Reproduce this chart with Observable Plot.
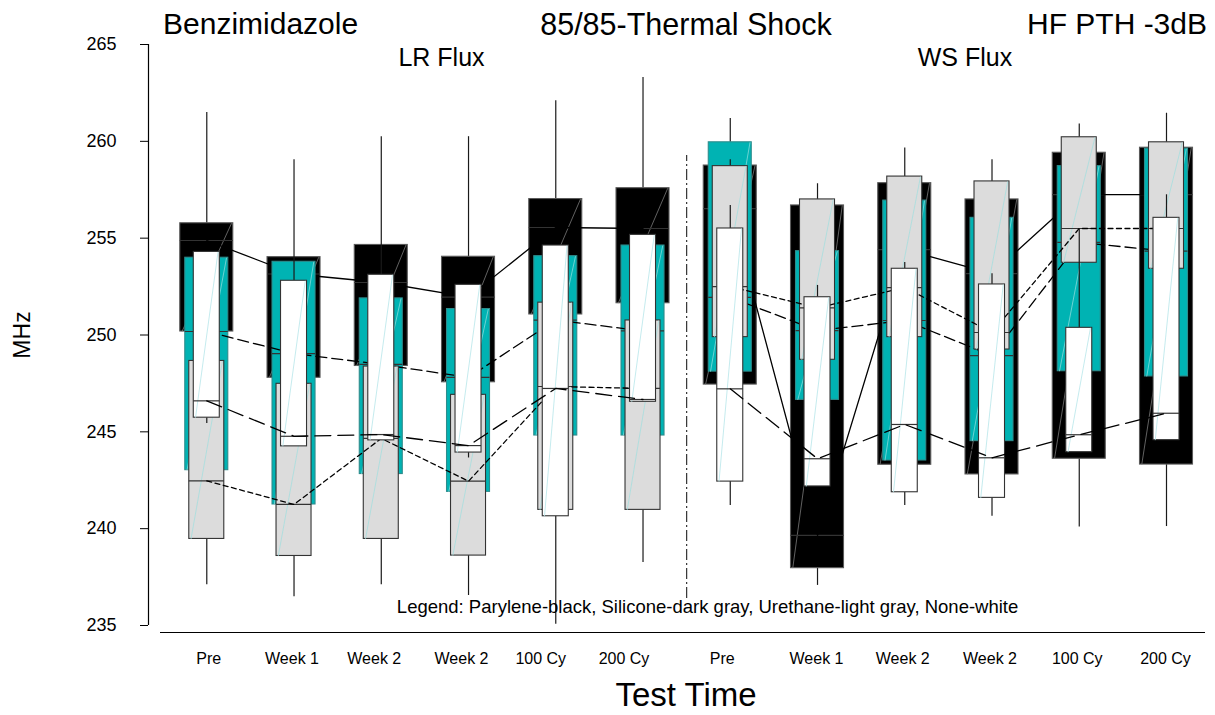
<!DOCTYPE html>
<html><head><meta charset="utf-8">
<script src="https://cdn.jsdelivr.net/npm/d3@7"></script>
<script src="https://cdn.jsdelivr.net/npm/@observablehq/plot@0.6"></script>
<style>
body{margin:0;background:#fff;}
#wrap{position:relative;width:1215px;height:715px;font-family:"Liberation Sans",Arial,sans-serif;color:#000;}
.ov{position:absolute;white-space:nowrap;line-height:1;}
</style></head>
<body>
<div id="wrap">
  <div id="chart"></div>
  <div class="ov" style="left:163px;top:9px;font-size:30px;">Benzimidazole</div>
  <div class="ov" style="left:686px;top:9px;font-size:30.5px;transform:translateX(-50%);">85/85-Thermal Shock</div>
  <div class="ov" style="right:8px;top:9px;font-size:30px;">HF PTH -3dB</div>
  <div class="ov" style="left:686px;top:678px;font-size:33px;transform:translateX(-50%);">Test Time</div>
  <div class="ov" style="left:22px;top:335px;font-size:23px;transform:translate(-50%,-50%) rotate(-90deg);">MHz</div>
</div>
<script>
// ---- categories ----
const timeLabels = ["Pre","Week 1","Week 2","Week 2","100 Cy","200 Cy","Pre","Week 1","Week 2","Week 2","100 Cy","200 Cy"];
const fluxGroups = ["LR Flux","LR Flux","LR Flux","LR Flux","LR Flux","LR Flux","WS Flux","WS Flux","WS Flux","WS Flux","WS Flux","WS Flux"];
const yTicks = [235, 240, 245, 250, 255, 260, 265];
const legendText = "Legend: Parylene-black, Silicone-dark gray, Urethane-light gray, None-white";

// ---- Parylene (black) ----
const paryleneLo  = [250.18, 247.79, 248.40, 247.56, 251.06, 251.64, 247.44, 237.07, 243.30, 242.80, 240.08, 240.11];
const paryleneQ1  = [250.18, 247.79, 248.40, 247.56, 251.06, 251.64, 247.44, 237.96, 243.30, 242.80, 243.61, 243.31];
const paryleneMed = [254.88, 253.15, 252.71, 251.96, 255.55, 255.50, 256.53, 239.65, 254.41, 253.17, 257.25, 257.25];
const paryleneQ3  = [255.77, 254.02, 254.65, 254.04, 257.02, 257.58, 258.75, 256.69, 257.84, 257.00, 259.41, 259.67];
const paryleneHi  = [261.49, 254.02, 254.65, 260.24, 262.09, 263.30, 258.75, 256.69, 257.84, 257.00, 259.41, 259.67];

// ---- Silicone (teal) ----
const siliconeLo  = [243.02, 241.25, 242.82, 241.90, 244.81, 244.81, 248.11, 246.65, 243.52, 244.52, 248.13, 247.86];
const siliconeQ1  = [243.02, 241.25, 242.82, 241.90, 244.81, 244.81, 248.11, 246.65, 243.52, 244.52, 248.13, 247.86];
const siliconeMed = [250.18, 249.04, 248.48, 247.81, 250.77, 250.21, 251.94, 250.23, 250.75, 248.94, 254.78, 254.33];
const siliconeQ3  = [253.99, 253.78, 251.89, 251.34, 254.07, 254.62, 259.95, 254.33, 256.94, 256.05, 258.72, 259.62];
const siliconeHi  = [253.99, 253.78, 251.89, 251.34, 254.07, 254.62, 261.18, 254.33, 256.94, 256.05, 258.72, 259.62];

// ---- Urethane (light gray) ----
const urethaneLo  = [237.11, 236.48, 237.11, 236.55, 240.97, 238.25, 249.89, 248.72, 249.89, 249.25, 253.73, 253.42];
const urethaneQ1  = [239.47, 238.59, 239.47, 238.61, 240.97, 240.97, 249.89, 248.72, 249.89, 249.25, 253.73, 253.42];
const urethaneMed = [242.47, 241.25, 244.66, 242.45, 247.34, 247.24, 252.50, 251.40, 252.45, 250.13, 255.50, 255.50];
const urethaneQ3  = [248.66, 247.48, 248.37, 246.91, 251.67, 250.75, 258.72, 257.00, 258.18, 257.93, 260.21, 259.95];
const urethaneHi  = [248.66, 247.48, 248.37, 246.91, 251.67, 250.75, 259.05, 257.81, 259.66, 259.05, 260.90, 261.45];

// ---- None (white) ----
const noneLo  = [245.43, 244.25, 244.56, 243.65, 235.07, 246.55, 241.20, 242.18, 241.20, 240.64, 243.95, 244.57];
const noneQ1  = [245.73, 244.25, 244.56, 243.93, 240.64, 246.55, 242.43, 242.18, 241.88, 241.59, 243.95, 244.57];
const noneMed = [246.60, 244.77, 244.86, 244.29, 247.24, 246.67, 247.22, 243.61, 245.38, 243.66, 244.85, 245.96];
const noneQ3  = [254.29, 252.80, 253.11, 252.59, 254.62, 255.17, 255.50, 251.95, 253.42, 252.61, 250.37, 256.05];
const noneHi  = [254.29, 259.05, 260.24, 252.59, 254.62, 255.17, 256.69, 252.56, 253.75, 253.16, 255.48, 257.24];

// ---- layout ----
const W = 1215, H = 715;
const mL = 148, mR = 10, mT = 44, mB = 90;
const xMin = -0.668, xMax = 11.447;
const pxPerSlot = (W - mL - mR) / (xMax - xMin);
const pxPerUnit = (H - mT - mB) / 30;
// the category labels of the original sit slightly apart from the box centres (px offsets)
const labelNudge = [2, -2, -7, -7, -15, -19, -8, -1, -2, -2, -2, -1];

function rows(lo, q1, med, q3, hi) {
  return timeLabels.map((t, i) => ({i, group: fluxGroups[i], lo: lo[i], q1: q1[i], med: med[i], q3: q3[i], hi: hi[i]}));
}
const series = [
  {data: rows(paryleneLo, paryleneQ1, paryleneMed, paryleneQ3, paryleneHi), half: 26.5, fill: "#000000", stroke: "#5a5a5a", diag: "#7a7a7a", dash: null},
  {data: rows(siliconeLo, siliconeQ1, siliconeMed, siliconeQ3, siliconeHi), half: 21.5, fill: "#00b3b3", stroke: "#2e8c8c", diag: "#86dada", dash: "11,5"},
  {data: rows(urethaneLo, urethaneQ1, urethaneMed, urethaneQ3, urethaneHi), half: 17.5, fill: "#dcdcdc", stroke: "#333333", diag: "#a6dede", dash: "5,3.5"},
  {data: rows(noneLo, noneQ1, noneMed, noneQ3, noneHi), half: 13, fill: "#ffffff", stroke: "#333333", diag: "#b6e6ea", dash: "16,7"}
];

const marks = [];
for (const s of series) {
  const hw = s.half / pxPerSlot;
  marks.push(Plot.ruleX(s.data, {x: "i", y1: "q3", y2: "hi", stroke: "#1a1a1a", strokeWidth: 1.2}));
  marks.push(Plot.ruleX(s.data, {x: "i", y1: "lo", y2: "q1", stroke: "#1a1a1a", strokeWidth: 1.2}));
  marks.push(Plot.rect(s.data, {x1: d => d.i - hw, x2: d => d.i + hw, y1: "q1", y2: "q3", fill: s.fill, stroke: s.stroke, strokeWidth: 1.1}));
  marks.push(Plot.link(s.data, {x1: d => d.i - hw + 0.02, y1: "q1", x2: d => d.i + hw - 0.02, y2: "q3", stroke: s.diag, strokeWidth: 0.8}));
  marks.push(Plot.ruleY(s.data, {y: "med", x1: d => d.i - hw, x2: d => d.i + hw, stroke: "#333", strokeWidth: 1.2}));
  marks.push(Plot.line(s.data, {x: "i", y: "med", z: "group", stroke: "#000", strokeWidth: 1.3, strokeDasharray: s.dash}));
}

const labelTicks = timeLabels.map((t, i) => i + labelNudge[i] / pxPerSlot);

const chart = Plot.plot({
  width: W, height: H,
  marginLeft: mL, marginRight: mR, marginTop: mT, marginBottom: mB,
  style: {fontFamily: "'Liberation Sans', Arial, sans-serif", fontSize: "15px", color: "#000", background: "transparent"},
  x: {type: "linear", domain: [xMin, xMax]},
  y: {domain: [235, 265]},
  marks: [
    // axis lines
    Plot.ruleX([xMin], {y1: 235, y2: 265, stroke: "#000", strokeWidth: 1.2}),
    Plot.ruleY([235 - 7 / pxPerUnit], {x1: xMin + 12 / pxPerSlot, x2: xMax, stroke: "#000", strokeWidth: 1.2}),
    Plot.axisY({ticks: yTicks, tickSize: 8, tickPadding: 24, fontSize: 18, tickFormat: d => String(d), label: null}),
    Plot.axisX({ticks: labelTicks, tickFormat: (v, k) => timeLabels[k], tickSize: 0, tickPadding: 27, fontSize: 16, label: null}),
    // group divider
    Plot.ruleX([5.5], {y1: 236.39, y2: 259.27, stroke: "#333", strokeWidth: 1.2, strokeDasharray: "11,3,2,3"}),
    ...marks,
    // group labels
    Plot.text(["LR Flux", "WS Flux"], {x: (d, k) => k * 6 + 2.69, y: 264.3, text: d => d, fontSize: 25}),
    Plot.text([legendText], {x: 5.74, y: 235.93, text: d => d, fontSize: 18.5})
  ]
});
document.getElementById("chart").appendChild(chart);
</script>
</body></html>
